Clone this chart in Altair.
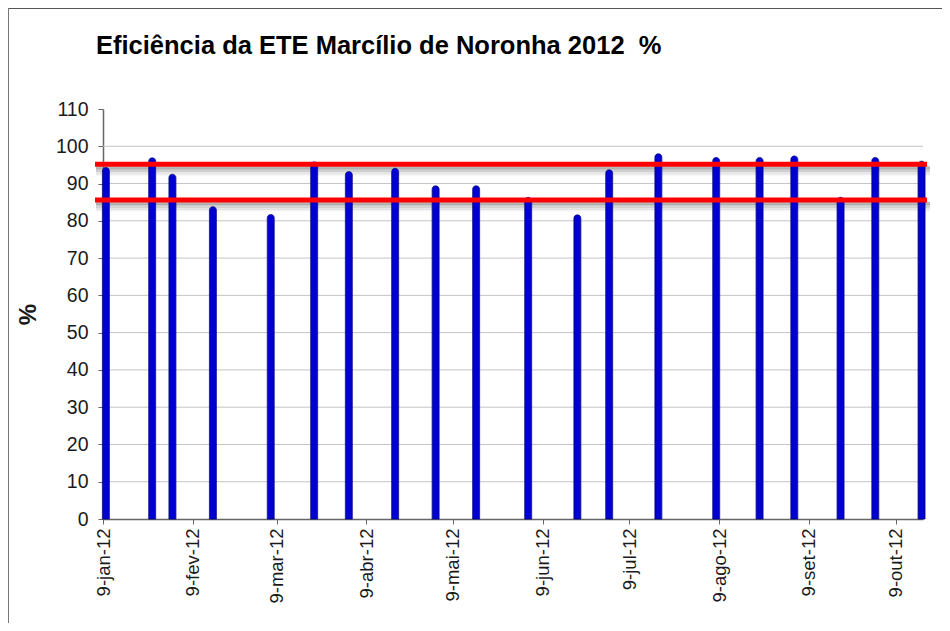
import altair as alt
import pandas as pd

# ---- data ----
dates = ["2012-01-10", "2012-01-26", "2012-02-02", "2012-02-16", "2012-03-07",
         "2012-03-22", "2012-04-03", "2012-04-19", "2012-05-03", "2012-05-17",
         "2012-06-04", "2012-06-21", "2012-07-02", "2012-07-19", "2012-08-08",
         "2012-08-23", "2012-09-04", "2012-09-20", "2012-10-02", "2012-10-18"]
values = [94.3, 96.9, 92.5, 83.8, 81.7, 95.8, 93.2, 94.1, 89.4, 89.4,
          86.3, 81.6, 93.7, 98.0, 97.0, 97.0, 97.4, 86.3, 97.0, 96.0]
limits = [95.2, 85.6]
tick_months = [1, 2, 3, 4, 5, 6, 7, 8, 9, 10]
month_names = ["jan", "fev", "mar", "abr", "mai", "jun", "jul", "ago", "set", "out", "nov", "dez"]
y_ticks = [0, 10, 20, 30, 40, 50, 60, 70, 80, 90, 100, 110]
grid_values = [10, 20, 30, 40, 50, 60, 70, 80, 90, 100]
title_text = "Eficiência da ETE Marcílio de Noronha 2012\u00a0 %"

df = pd.DataFrame({"data": [d + "T00:00:00" for d in dates], "valor": values})
lim_df = pd.DataFrame({"limite": limits})
grid_df = pd.DataFrame({"g": grid_values})
frame_df = pd.DataFrame({"k": [0]})

FONT = "Liberation Sans"
W, H = 820, 410

names_js = "[" + ",".join("'%s'" % m for m in month_names) + "]"
label_expr = ("date(datum.value) + '-' + " + names_js +
              "[month(datum.value)] + '-' + timeFormat(datum.value, '%y')")

x_scale = alt.Scale(domain=[alt.DateTime(year=2012, month=1, date=9),
                            alt.DateTime(year=2012, month=10, date=18, hours=12)],
                    padding=0)
y_scale = alt.Scale(domain=[0, 110], nice=False, padding=0)

x_axis = alt.Axis(values=[alt.DateTime(year=2012, month=m, date=9) for m in tick_months],
                  labelExpr=label_expr, labelAngle=270, labelFont=FONT, labelFontSize=18.5,
                  labelColor="#1a1a1a", labelPadding=4, tickSize=5, tickColor="#666666",
                  domainColor="#666666", domainWidth=1.5, grid=False, title=None,
                  labelOverlap=False)
y_axis = alt.Axis(values=y_ticks, labelFont=FONT, labelFontSize=19.5, labelColor="#1a1a1a",
                  labelPadding=10, tickSize=5, tickColor="#666666", domainColor="#666666",
                  domainWidth=1.5, grid=False, gridOpacity=0, labelOverlap=False,
                  title="%", titleFont=FONT, titleFontSize=24, titleFontWeight="bold",
                  titleColor="#1a1a1a", titleAngle=270, titleX=-75, titleY=H / 2,
                  titleAlign="center", titleBaseline="middle")

grid = alt.Chart(grid_df).mark_rule(color="#c4c4c4", strokeWidth=1).encode(
    y=alt.Y("g:Q", scale=y_scale, axis=y_axis), x=alt.value(0), x2=alt.value(W))

bars = alt.Chart(df).mark_bar(width=7, cornerRadiusTopLeft=3.5, cornerRadiusTopRight=3.5,
                              color="#0000d2", stroke="#000090", strokeWidth=0.8).encode(
    x=alt.X("data:T", scale=x_scale, axis=x_axis),
    y=alt.Y("valor:Q", scale=y_scale, axis=y_axis),
)

def shadow(offset, opacity, width):
    return alt.Chart(lim_df).mark_rule(color="#555555", opacity=opacity, strokeWidth=width,
                                       yOffset=offset).encode(
        y=alt.Y("limite:Q", scale=y_scale, axis=y_axis), x=alt.value(-7), x2=alt.value(W + 7))

shadows = [shadow(3.5, 0.42, 3), shadow(6, 0.28, 3), shadow(8.5, 0.14, 3), shadow(10.5, 0.06, 2)]

red = alt.Chart(lim_df).mark_rule(color="#ff0000", strokeWidth=5).encode(
    y=alt.Y("limite:Q", scale=y_scale, axis=y_axis), x=alt.value(-8), x2=alt.value(W + 4))

title = alt.Chart(frame_df).mark_text(text=title_text, font=FONT, fontSize=25.5,
                                      fontWeight="bold", color="#000000", align="left",
                                      baseline="alphabetic").encode(
    x=alt.value(-7), y=alt.value(-55))

top_border = alt.Chart(frame_df).mark_rule(color="#555555", strokeWidth=2).encode(
    y=alt.value(-101), x=alt.value(-96), x2=alt.value(W + 19))
left_border = alt.Chart(frame_df).mark_rule(color="#777777", strokeWidth=2).encode(
    x=alt.value(-95), y=alt.value(-102), y2=alt.value(H + 104))

chart = alt.layer(grid, *shadows, bars, red, title, top_border, left_border).properties(
    width=W, height=H,
    autosize=alt.AutoSizeParams(type="none"),
    padding={"left": 95, "top": 101, "right": 19, "bottom": 104},
    view=alt.ViewBackground(stroke="transparent", strokeWidth=0, strokeOpacity=0),
).configure(background="white",
            axis=alt.AxisConfig(grid=False, gridOpacity=0),
            view=alt.ViewConfig(stroke="transparent", strokeWidth=0, strokeOpacity=0))

chart.save("out.html", embed_options={"renderer": "svg", "actions": False})
